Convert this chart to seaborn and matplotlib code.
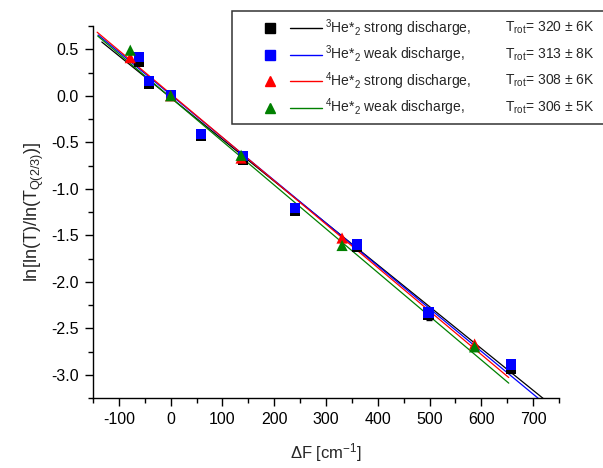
import numpy as np
import pandas as pd
import matplotlib
matplotlib.use("Agg")
import matplotlib.pyplot as plt
from matplotlib.lines import Line2D
from matplotlib.patches import Rectangle
from matplotlib.ticker import MultipleLocator
import seaborn as sns

# ---- data ----
x_he3 = [-61, -42, 0, 58, 140, 240, 360, 498, 657]
y_he3_strong = [0.36, 0.13, 0.0, -0.43, -0.69, -1.24, -1.63, -2.36, -2.94]
err_he3_strong = [0.02, 0.02, 0.02, 0.02, 0.03, 0.03, 0.03, 0.05, 0.04]
y_he3_weak = [0.42, 0.16, 0.01, -0.41, -0.65, -1.21, -1.60, -2.33, -2.89]

x_he4 = [-78, 0, 136, 331, 587]
y_he4_strong = [0.41, 0.0, -0.67, -1.53, -2.67]
y_he4_weak = [0.49, 0.0, -0.64, -1.61, -2.70]

# linear fits: slope, intercept, x-range
fit_slope = [-0.004496, -0.004597, -0.004671, -0.004702]
fit_icpt = [-0.02, 0.01, 0.02, -0.02]
fit_x0 = [-133, -140, -142, -141]
fit_x1 = [740, 740, 653, 653]

series_names = ["$^{3}$He*$_{2}$ strong discharge,",
                "$^{3}$He*$_{2}$ weak discharge,",
                "$^{4}$He*$_{2}$ strong discharge,",
                "$^{4}$He*$_{2}$ weak discharge,"]
trot_labels = ["T$_{\\mathrm{rot}}$= 320 \u00b1 6K",
               "T$_{\\mathrm{rot}}$= 313 \u00b1 8K",
               "T$_{\\mathrm{rot}}$= 308 \u00b1 6K",
               "T$_{\\mathrm{rot}}$= 306 \u00b1 5K"]
colors = ["#000000", "#0000ff", "#ff0000", "#008000"]
markers = ["s", "s", "^", "^"]

sns.set_theme(style="ticks")
plt.rcParams['font.family'] = ['Liberation Sans', 'DejaVu Sans']
plt.rcParams['mathtext.fontset'] = 'custom'
plt.rcParams['mathtext.rm'] = 'Liberation Sans'
plt.rcParams['mathtext.it'] = 'Liberation Sans'
plt.rcParams['mathtext.default'] = 'regular'
plt.rcParams['axes.unicode_minus'] = False

fig = plt.figure(figsize=(6.03, 4.68), dpi=100)
ax = fig.add_axes([93/603, 1-398/468, (559-93)/603, (398-26)/468])

# fit lines
for i in range(4):
    xs = np.array([fit_x0[i], fit_x1[i]], dtype=float)
    ys = fit_icpt[i] + fit_slope[i] * xs
    sns.lineplot(x=xs, y=ys, ax=ax, color=colors[i], lw=0.9, zorder=2,
                 legend=False)

# points
ax.errorbar(x_he3, y_he3_strong, yerr=err_he3_strong, fmt='none',
            ecolor='black', elinewidth=0.8, capsize=2, zorder=3)
sets = [(x_he3, y_he3_strong), (x_he3, y_he3_weak),
        (x_he4, y_he4_strong), (x_he4, y_he4_weak)]
for i, (xx, yy) in enumerate(sets):
    df = pd.DataFrame({"x": xx, "y": yy})
    sns.scatterplot(data=df, x="x", y="y", ax=ax, color=colors[i],
                    marker=markers[i], s=55 if markers[i] == "s" else 65,
                    edgecolor='none', zorder=4 + i, legend=False)

ax.set_xlim(-150, 750)
ax.set_ylim(-3.25, 0.75)
ax.xaxis.set_major_locator(MultipleLocator(100))
ax.xaxis.set_minor_locator(MultipleLocator(50))
ax.yaxis.set_major_locator(MultipleLocator(0.5))
ax.yaxis.set_minor_locator(MultipleLocator(0.25))
ax.tick_params(axis='both', which='major', direction='out', length=6,
               width=1, labelsize=11.5, colors='black', pad=4)
ax.tick_params(axis='both', which='minor', direction='out', length=3.5,
               width=1, colors='black')
ax.yaxis.set_major_formatter(matplotlib.ticker.FormatStrFormatter('%.1f'))
for s in ['top', 'right']:
    ax.spines[s].set_visible(False)
for s in ['left', 'bottom']:
    ax.spines[s].set_color('black')
    ax.spines[s].set_linewidth(1)

ax.set_xlabel("\u0394F [cm$^{-1}$]", fontsize=12, labelpad=10)
ax.set_ylabel("ln[ln(T)/ln(T$_{Q(2/3)}$)]", fontsize=13, labelpad=4)

# legend box (Origin style)
W, H = 603.0, 468.0
fig.add_artist(Rectangle((232/W, 1-124/H), (620-232)/W, (124-11)/H,
                         transform=fig.transFigure, facecolor='white',
                         edgecolor='#333333', lw=1.1, zorder=10))
rows = [28, 54.5, 81, 107.5]
for i in range(4):
    yf = 1 - rows[i]/H
    fig.add_artist(Line2D([270/W], [yf], marker=markers[i], color=colors[i],
                          markersize=6.5 if markers[i] == 's' else 7.5,
                          ls='none', transform=fig.transFigure, zorder=11))
    fig.add_artist(Line2D([290/W, 322/W], [yf, yf], color=colors[i], lw=1,
                          transform=fig.transFigure, zorder=11))
    fig.text(325/W, yf, series_names[i], fontsize=10, va='center',
             ha='left', zorder=12)
    fig.text(505/W, yf, trot_labels[i], fontsize=10, va='center',
             ha='left', zorder=12)

fig.savefig("out.png", dpi=100, facecolor='white')
